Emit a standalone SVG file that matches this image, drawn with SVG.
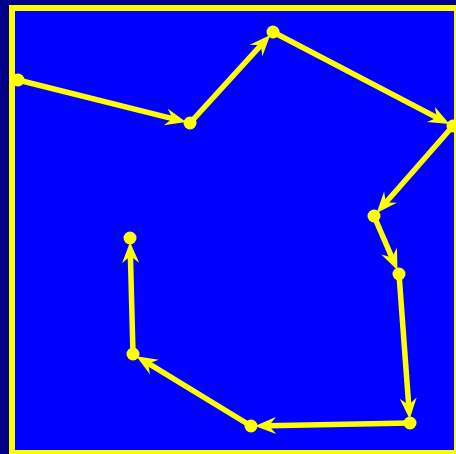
<svg xmlns="http://www.w3.org/2000/svg" width="456" height="454" viewBox="0 0 456 454">
<style>
.seg{stroke:#ffff00;stroke-width:5.5;fill:none;marker-end:url(#ah)}
.pt{fill:#ffff00}
</style>
<defs>
<marker id="ah" markerUnits="userSpaceOnUse" viewBox="-10 -10 26 20" markerWidth="26" markerHeight="20" refX="0" refY="0" orient="auto">
<path d="M13,0 L-8,-8.5 L-1,0 L-8,8.5 Z" fill="#ffff00"/>
</marker>
</defs>
<rect x="0" y="0" width="456" height="454" fill="#00008b"/>
<rect x="12" y="8" width="445" height="445" fill="#0000ff" stroke="#ffff00" stroke-width="6"/>
<g id="connectors">
<line class="seg" x1="18" y1="80" x2="173.5" y2="118.9"/>
<line class="seg" x1="190" y1="123" x2="261.5" y2="44.6"/>
<line class="seg" x1="273" y1="32" x2="437.9" y2="118.1"/>
<line class="seg" x1="453" y1="126" x2="385.2" y2="203.2"/>
<line class="seg" x1="374" y1="216" x2="392.3" y2="258.4"/>
<line class="seg" x1="399" y1="274" x2="408.75" y2="406.05"/>
<line class="seg" x1="410" y1="423" x2="268" y2="425.7"/>
<line class="seg" x1="251" y1="426" x2="147.5" y2="362.9"/>
<line class="seg" x1="133" y1="354" x2="130.4" y2="255"/>
</g>
<g id="p1"><circle class="pt" cx="18" cy="80" r="6.5"/></g>
<g id="p2"><circle class="pt" cx="190" cy="123" r="6.5"/></g>
<g id="p3"><circle class="pt" cx="273" cy="32" r="6.5"/></g>
<g id="p4"><circle class="pt" cx="453" cy="126" r="6.5"/></g>
<g id="p5"><circle class="pt" cx="374" cy="216" r="6.5"/></g>
<g id="p6"><circle class="pt" cx="399" cy="274" r="6.5"/></g>
<g id="p7"><circle class="pt" cx="410" cy="423" r="6.5"/></g>
<g id="p8"><circle class="pt" cx="251" cy="426" r="6.5"/></g>
<g id="p9"><circle class="pt" cx="133" cy="354" r="6.5"/></g>
<g id="p10"><circle class="pt" cx="130" cy="238" r="6.5"/></g>
</svg>
